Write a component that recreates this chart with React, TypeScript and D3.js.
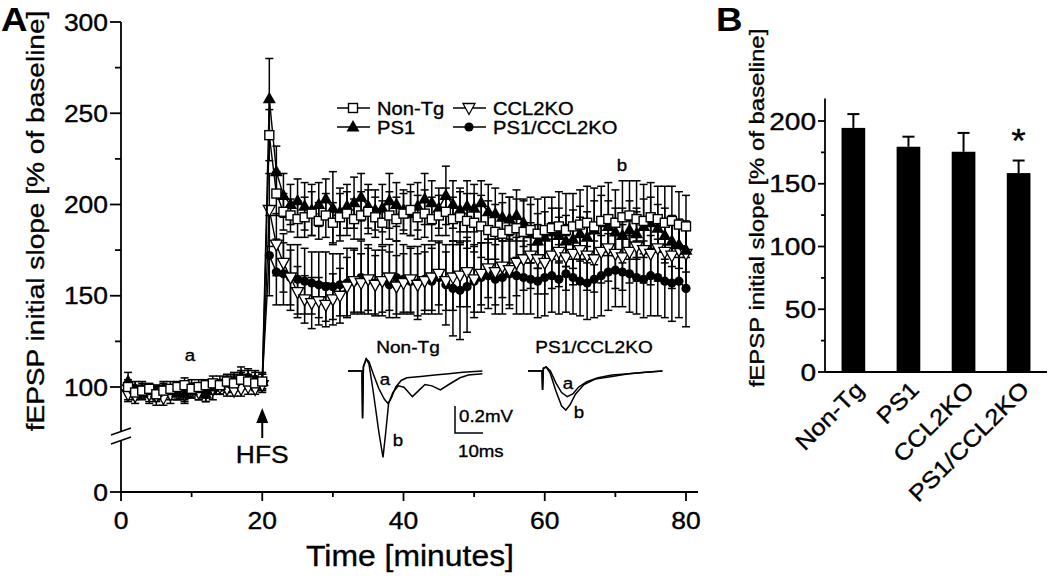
import React from 'react';
import * as d3 from 'd3';

// ---- panel A data: time course (1-min bins) ----
const times = d3.range(1, 81);

const nonTg = [
  100, 97, 98, 99, 96, 98, 99, 100, 101, 99, 100, 101, 102, 101, 103, 102, 104, 103, 102, 103,
  238, 206, 196, 194, 192, 193, 195, 191, 194, 190, 193, 195, 192, 194, 196, 193, 190, 194, 192, 195,
  197, 193, 195, 192, 194, 196, 192, 193, 191, 190, 188, 186, 185, 184, 186, 187, 185, 186, 184, 186,
  187, 188, 186, 188, 189, 190, 188, 191, 192, 190, 193, 194, 192, 191, 193, 192, 190, 191, 189, 188,
];
const nonTgErr = [
  4, 3, 4, 3, 4, 3, 4, 3, 4, 3, 4, 3, 4, 3, 4, 4, 5, 4, 4, 5,
  14, 12, 10, 9, 10, 11, 12, 10, 12, 11, 13, 12, 11, 13, 12, 11, 12, 13, 12, 11,
  14, 12, 13, 12, 11, 13, 12, 14, 15, 16, 17, 16, 15, 17, 18, 16, 17, 18, 19, 18,
  17, 19, 20, 18, 19, 20, 21, 19, 20, 18, 20, 19, 21, 20, 19, 18, 20, 19, 18, 17,
];
const ps1 = [
  103, 99, 97, 98, 97, 99, 98, 97, 96, 98, 99, 96, 100, 101, 102, 103, 106, 105, 104, 103,
  258, 218, 205, 200, 202, 199, 197, 200, 203, 198, 196, 199, 201, 204, 199, 197, 198, 202, 200, 197,
  195, 199, 203, 201, 198, 205, 200, 197, 199, 198, 201, 196, 195, 193, 192, 194, 190, 184, 180, 182,
  185, 183, 180, 181, 184, 182, 186, 190, 188, 185, 183, 186, 184, 188, 190, 187, 183, 180, 178, 175,
];
const ps1Err = [
  5, 4, 4, 3, 4, 4, 3, 4, 5, 4, 3, 4, 4, 5, 4, 4, 5, 5, 4, 4,
  22, 14, 12, 11, 12, 13, 14, 12, 11, 20, 13, 12, 14, 13, 12, 11, 13, 15, 12, 11,
  12, 13, 14, 12, 11, 16, 13, 12, 14, 13, 12, 15, 14, 13, 12, 14, 13, 16, 15, 14,
  13, 15, 14, 16, 15, 14, 16, 15, 14, 13, 15, 16, 14, 15, 14, 13, 15, 14, 13, 12,
];
const ccl2ko = [
  96, 95, 97, 96, 95, 94, 96, 97, 96, 98, 97, 98, 99, 100, 99, 98, 99, 100, 99, 101,
  197, 178, 168, 160, 152, 148, 146, 147, 145, 148, 150, 155, 158, 157, 159, 156, 158, 160, 155, 157,
  159, 156, 158, 160, 162, 158, 160, 161, 163, 159, 162, 165, 163, 166, 164, 168, 170, 172, 170, 168,
  172, 174, 171, 173, 175, 172, 170, 174, 176, 173, 171, 174, 177, 175, 173, 176, 174, 172, 175, 173,
];
const ccl2koErr = [
  4, 4, 3, 4, 5, 4, 3, 4, 4, 3, 4, 4, 3, 4, 4, 3, 4, 4, 3, 4,
  20, 17, 16, 15, 14, 13, 14, 13, 12, 14, 15, 16, 17, 16, 17, 16, 17, 18, 17, 16,
  18, 17, 16, 18, 17, 16, 18, 17, 19, 18, 17, 16, 18, 17, 19, 18, 17, 18, 19, 17,
  18, 19, 18, 17, 18, 19, 18, 17, 18, 19, 18, 17, 19, 18, 17, 18, 17, 18, 17, 18,
];
const ps1Ccl2ko = [
  98, 97, 99, 96, 97, 98, 96, 98, 97, 99, 97, 96, 98, 100, 101, 103, 104, 105, 104, 103,
  172, 163, 162, 160, 159, 158, 157, 156, 155, 155, 156, 157, 158, 160, 159, 157, 158, 156, 160, 159,
  158, 157, 159, 158, 160, 156, 154, 153, 155, 158, 160, 161, 159, 160, 162, 161, 160, 159, 158, 160,
  161, 159, 162, 160, 158, 157, 159, 161, 163, 164, 163, 162, 160, 159, 161, 160, 158, 157, 158, 154,
];
const ps1Ccl2koErr = [
  5, 4, 4, 5, 4, 4, 5, 4, 4, 5, 4, 4, 5, 4, 4, 5, 4, 4, 5, 4,
  22, 18, 17, 18, 19, 18, 17, 18, 19, 18, 17, 19, 18, 20, 19, 18, 19, 18, 20, 19,
  18, 20, 19, 18, 20, 22, 26, 27, 25, 20, 19, 18, 19, 20, 19, 21, 20, 19, 20, 21,
  20, 19, 21, 20, 19, 20, 21, 22, 21, 20, 19, 21, 20, 21, 22, 21, 20, 21, 20, 21,
];

const xTicksA = [0, 20, 40, 60, 80];
const xMinorA = [10, 30, 50, 70];
const yTicksA = [100, 150, 200, 250, 300];
const yMinorA = [125, 175, 225, 275];

// ---- inset traces (ms, mV) ----
const nonTgTraceA: [number, number][] = [
  [0, 0], [5, 0], [5.2, -0.35], [5.5, 0.03], [6.5, 0.09], [7.5, 0.07], [9, -0.02], [11, -0.13],
  [13, -0.21], [14.3, -0.24], [15.5, -0.2], [17, -0.12], [19, -0.07], [21, -0.05], [26, -0.04],
  [31, -0.03], [36, -0.02], [41, -0.01], [48, 0],
];
const nonTgTraceB: [number, number][] = [
  [0, 0], [5, 0], [5.2, -0.35], [5.5, 0.03], [6.5, 0.09], [7.5, 0.05], [9, -0.15], [11, -0.45],
  [12.5, -0.64], [13.5, -0.45], [14.5, -0.24], [16, -0.16], [18, -0.11], [20, -0.12], [23, -0.19],
  [25.5, -0.14], [27.5, -0.1], [30, -0.11], [33, -0.14], [36, -0.1], [40, -0.05], [43, -0.03], [48, -0.02],
];
const dkoTraceA: [number, number][] = [
  [0, 0], [5, 0], [5.2, -0.14], [5.5, 0.02], [6.5, 0.03], [8, 0.0], [10, -0.09], [12, -0.16],
  [14, -0.19], [16, -0.17], [18, -0.12], [21, -0.08], [25, -0.05], [30, -0.03], [36, -0.02], [42, -0.01], [48, 0],
];
const dkoTraceB: [number, number][] = [
  [0, 0], [5, 0], [5.2, -0.14], [5.5, 0.02], [6.5, 0.03], [8, -0.02], [10, -0.15], [12, -0.26],
  [13.5, -0.29], [15, -0.25], [17, -0.17], [20, -0.1], [24, -0.06], [30, -0.04], [36, -0.02], [42, -0.01], [48, 0],
];

// ---- panel B data ----
const groups = ['Non-Tg', 'PS1', 'CCL2KO', 'PS1/CCL2KO'];
const groupMeans = [194.5, 179.5, 175.5, 158.5];
const groupErr = [11, 8, 15, 10];
const yTicksB = [0, 50, 100, 150, 200];
const yMinorB = [25, 75, 125, 175];

const FONT = 'Liberation Sans, Arial, Helvetica, sans-serif';

// text with a small horizontal stretch, the source figure's lettering is wide
const Txt = ({ x, y, size, anchor = 'start', rot = 0, sx = 1.15, weight = 'normal', children }: any) => (
  <text
    transform={`translate(${x},${y}) rotate(${rot}) scale(${sx},1)`}
    fontSize={size}
    fontFamily={FONT}
    fontWeight={weight}
    textAnchor={anchor}
    fill="#000"
    stroke="#000"
    strokeWidth={weight === 'bold' ? 0 : 0.35}
  >
    {children}
  </text>
);

type MarkerKind = 'square' | 'tri' | 'itri' | 'dot';

const Marker = ({ kind, x, y }: { kind: MarkerKind; x: number; y: number }) => {
  if (kind === 'square')
    return <rect x={x - 4.5} y={y - 4.5} width={9} height={9} fill="#fff" stroke="#000" strokeWidth={1.4} />;
  if (kind === 'tri')
    return <path d={`M${x},${y - 7}L${x + 6.5},${y + 4.5}L${x - 6.5},${y + 4.5}Z`} fill="#000" />;
  if (kind === 'itri')
    return <path d={`M${x - 6},${y - 4.5}L${x + 6},${y - 4.5}L${x},${y + 6.5}Z`} fill="#fff" stroke="#000" strokeWidth={1.3} />;
  return <circle cx={x} cy={y} r={4.6} fill="#000" />;
};

const seriesA = [
  { name: 'PS1/CCL2KO', values: ps1Ccl2ko, err: ps1Ccl2koErr, kind: 'dot' as MarkerKind },
  { name: 'CCL2KO', values: ccl2ko, err: ccl2koErr, kind: 'itri' as MarkerKind },
  { name: 'PS1', values: ps1, err: ps1Err, kind: 'tri' as MarkerKind },
  { name: 'Non-Tg', values: nonTg, err: nonTgErr, kind: 'square' as MarkerKind },
];

export default function App() {
  // panel A scales (the axis is broken between 0 and 100)
  const x = d3.scaleLinear().domain([0, 80]).range([121, 686]);
  const yHi = d3.scaleLinear().domain([100, 300]).range([387, 22]);
  const yZero = 492;
  const xEnd = 698;

  const line = d3.line<number>().x((_, i) => x(times[i])).y((d) => yHi(d));

  // inset scales: 10 ms and 0.2 mV scale bars
  const insetX = (x0: number) => d3.scaleLinear().domain([0, 10]).range([x0, x0 + 28]);
  const insetY = d3.scaleLinear().domain([0, 0.2]).range([371, 344]);
  const ntX = insetX(348);
  const dkX = insetX(528);
  const trace = (sx: d3.ScaleLinear<number, number>) =>
    d3.line<[number, number]>().x((d) => sx(d[0])).y((d) => insetY(d[1]));
  const barOffset = 62;

  // panel B scales
  const xb = d3.scaleBand<string>().domain(groups).range([825, 1047]).paddingInner(0.57).paddingOuter(0.3);
  const yb = d3.scaleLinear().domain([0, 200]).range([372, 121]);

  return (
    <svg width={1050} height={576} style={{ position: 'absolute', left: 0, top: 0, background: '#fff' }}>
      <rect width={1050} height={576} fill="#fff" />

      {/* ---------- Panel A ---------- */}
      <Txt x={1} y={31} size={34} weight="bold" sx={1.08}>A</Txt>

      {/* axes */}
      <g stroke="#000" strokeWidth={1.8} fill="none">
        <line x1={x(0)} x2={x(0)} y1={yHi(300)} y2={432} />
        <line x1={x(0)} x2={x(0)} y1={440} y2={yZero} />
        <line x1={111} y1={435} x2={131} y2={428} strokeWidth={1.4} />
        <line x1={111} y1={444} x2={131} y2={437} strokeWidth={1.4} />
        <line x1={x(0)} x2={xEnd} y1={yZero} y2={yZero} />
        {yTicksA.map((t) => (
          <line key={t} x1={x(0) - 11} x2={x(0)} y1={yHi(t)} y2={yHi(t)} />
        ))}
        <line x1={x(0) - 11} x2={x(0)} y1={yZero} y2={yZero} />
        {yMinorA.map((t) => (
          <line key={t} x1={x(0) - 6} x2={x(0)} y1={yHi(t)} y2={yHi(t)} />
        ))}
        {xTicksA.map((t) => (
          <line key={t} x1={x(t)} x2={x(t)} y1={yZero} y2={yZero + 9} />
        ))}
        {xMinorA.map((t) => (
          <line key={t} x1={x(t)} x2={x(t)} y1={yZero} y2={yZero + 5} />
        ))}
      </g>
      {yTicksA.map((t) => (
        <Txt key={t} x={108} y={yHi(t) + 8.5} size={23} anchor="end" sx={1.15}>{t}</Txt>
      ))}
      <Txt x={108} y={yZero + 8.5} size={23} anchor="end" sx={1.15}>0</Txt>
      {xTicksA.map((t) => (
        <Txt key={t} x={x(t)} y={529} size={23} anchor="middle" sx={1.15}>{t}</Txt>
      ))}
      <Txt x={410} y={566} size={29} anchor="middle" sx={1.1}>Time [minutes]</Txt>
      <Txt x={44} y={221} size={24} anchor="middle" rot={-90} sx={1.17}>fEPSP initial slope [% of baseline]</Txt>

      {/* error bars */}
      <g stroke="#000" strokeWidth={1.5}>
        {seriesA.map((s) =>
          s.values.map((v, i) => {
            const cx = x(times[i]);
            const top = yHi(v + s.err[i]);
            const bot = yHi(v - s.err[i]);
            return (
              <g key={s.name + i}>
                <line x1={cx} x2={cx} y1={top} y2={bot} />
                <line x1={cx - 4} x2={cx + 4} y1={top} y2={top} />
                <line x1={cx - 4} x2={cx + 4} y1={bot} y2={bot} />
              </g>
            );
          })
        )}
      </g>

      {/* lines and markers */}
      {seriesA.map((s) => (
        <g key={s.name}>
          <path d={line(s.values) || ''} fill="none" stroke="#000" strokeWidth={1.4} />
          {s.values.map((v, i) => (
            <Marker key={i} kind={s.kind} x={x(times[i])} y={yHi(v)} />
          ))}
        </g>
      ))}

      {/* legend */}
      {[
        { label: 'Non-Tg', kind: 'square' as MarkerKind, lx: 337, ly: 108 },
        { label: 'PS1', kind: 'tri' as MarkerKind, lx: 337, ly: 127 },
        { label: 'CCL2KO', kind: 'itri' as MarkerKind, lx: 453, ly: 108 },
        { label: 'PS1/CCL2KO', kind: 'dot' as MarkerKind, lx: 453, ly: 127 },
      ].map((l) => (
        <g key={l.label}>
          <line x1={l.lx} x2={l.lx + 33} y1={l.ly} y2={l.ly} stroke="#000" strokeWidth={1.4} />
          <Marker kind={l.kind} x={l.lx + 16} y={l.ly} />
          <Txt x={l.lx + 40} y={l.ly + 6.5} size={18} sx={1.12}>{l.label}</Txt>
        </g>
      ))}

      <Txt x={190} y={361} size={17} anchor="middle" sx={1.1}>a</Txt>
      <Txt x={622} y={171} size={17} anchor="middle" sx={1.1}>b</Txt>

      {/* HFS arrow */}
      <path d={`M${x(20)},408L${x(20) + 6},423L${x(20) - 6},423Z`} fill="#000" />
      <line x1={x(20)} x2={x(20)} y1={420} y2={438} stroke="#000" strokeWidth={2} />
      <Txt x={x(20)} y={463} size={24} anchor="middle" sx={1.1}>HFS</Txt>

      {/* insets */}
      <Txt x={408} y={353} size={17} anchor="middle" sx={1.12}>Non-Tg</Txt>
      <Txt x={594} y={353} size={17} anchor="middle" sx={1.12}>PS1/CCL2KO</Txt>
      <g fill="none" stroke="#000" strokeWidth={1.5}>
        <path d={trace(ntX)(nonTgTraceA) || ''} />
        <path d={trace(ntX)(nonTgTraceB) || ''} />
        <path d={trace(dkX)(dkoTraceA) || ''} />
        <path d={trace(dkX)(dkoTraceB) || ''} />
        <path d={`M455,${insetY(0.2) + barOffset}V${insetY(0) + barOffset}H${455 + 28}`} />
      </g>
      <Txt x={385} y={385} size={17} anchor="middle" sx={1.1}>a</Txt>
      <Txt x={398} y={446} size={17} anchor="middle" sx={1.1}>b</Txt>
      <Txt x={568} y={389} size={17} anchor="middle" sx={1.1}>a</Txt>
      <Txt x={579} y={418} size={17} anchor="middle" sx={1.1}>b</Txt>
      <Txt x={459} y={422} size={17} sx={1.1}>0.2mV</Txt>
      <Txt x={458} y={457} size={17} sx={1.1}>10ms</Txt>

      {/* ---------- Panel B ---------- */}
      <Txt x={716} y={31} size={34} weight="bold" sx={1.08}>B</Txt>
      <g stroke="#000" strokeWidth={1.8}>
        <line x1={825} x2={825} y1={yb(218)} y2={yb(0)} />
        <line x1={825} x2={1047} y1={yb(0)} y2={yb(0)} />
        {yTicksB.map((t) => (
          <line key={t} x1={818} x2={825} y1={yb(t)} y2={yb(t)} />
        ))}
        {yMinorB.map((t) => (
          <line key={t} x1={821} x2={825} y1={yb(t)} y2={yb(t)} />
        ))}
      </g>
      {yTicksB.map((t) => (
        <Txt key={t} x={816} y={yb(t) + 8.5} size={24} anchor="end" sx={1.17}>{t}</Txt>
      ))}
      <Txt x={764} y={208} size={21} anchor="middle" rot={-90} sx={1.14}>fEPSP initial slope [% of baseline]</Txt>

      {groups.map((g, i) => {
        const bx = xb(g) || 0;
        const cx = bx + xb.bandwidth() / 2;
        return (
          <g key={g}>
            <line x1={cx} x2={cx} y1={yb(groupMeans[i])} y2={yb(groupMeans[i] + groupErr[i])} stroke="#000" strokeWidth={2} />
            <line x1={cx - 6} x2={cx + 6} y1={yb(groupMeans[i] + groupErr[i])} y2={yb(groupMeans[i] + groupErr[i])} stroke="#000" strokeWidth={2} />
            <rect x={bx} y={yb(groupMeans[i])} width={xb.bandwidth()} height={yb(0) - yb(groupMeans[i])} fill="#000" />
            <Txt x={cx + 12} y={391} size={23} anchor="end" rot={-45} sx={1.12}>{g}</Txt>
          </g>
        );
      })}
      <Txt x={(xb('PS1/CCL2KO') || 0) + xb.bandwidth() / 2} y={152} size={34} anchor="middle" sx={1.1}>*</Txt>
    </svg>
  );
}
